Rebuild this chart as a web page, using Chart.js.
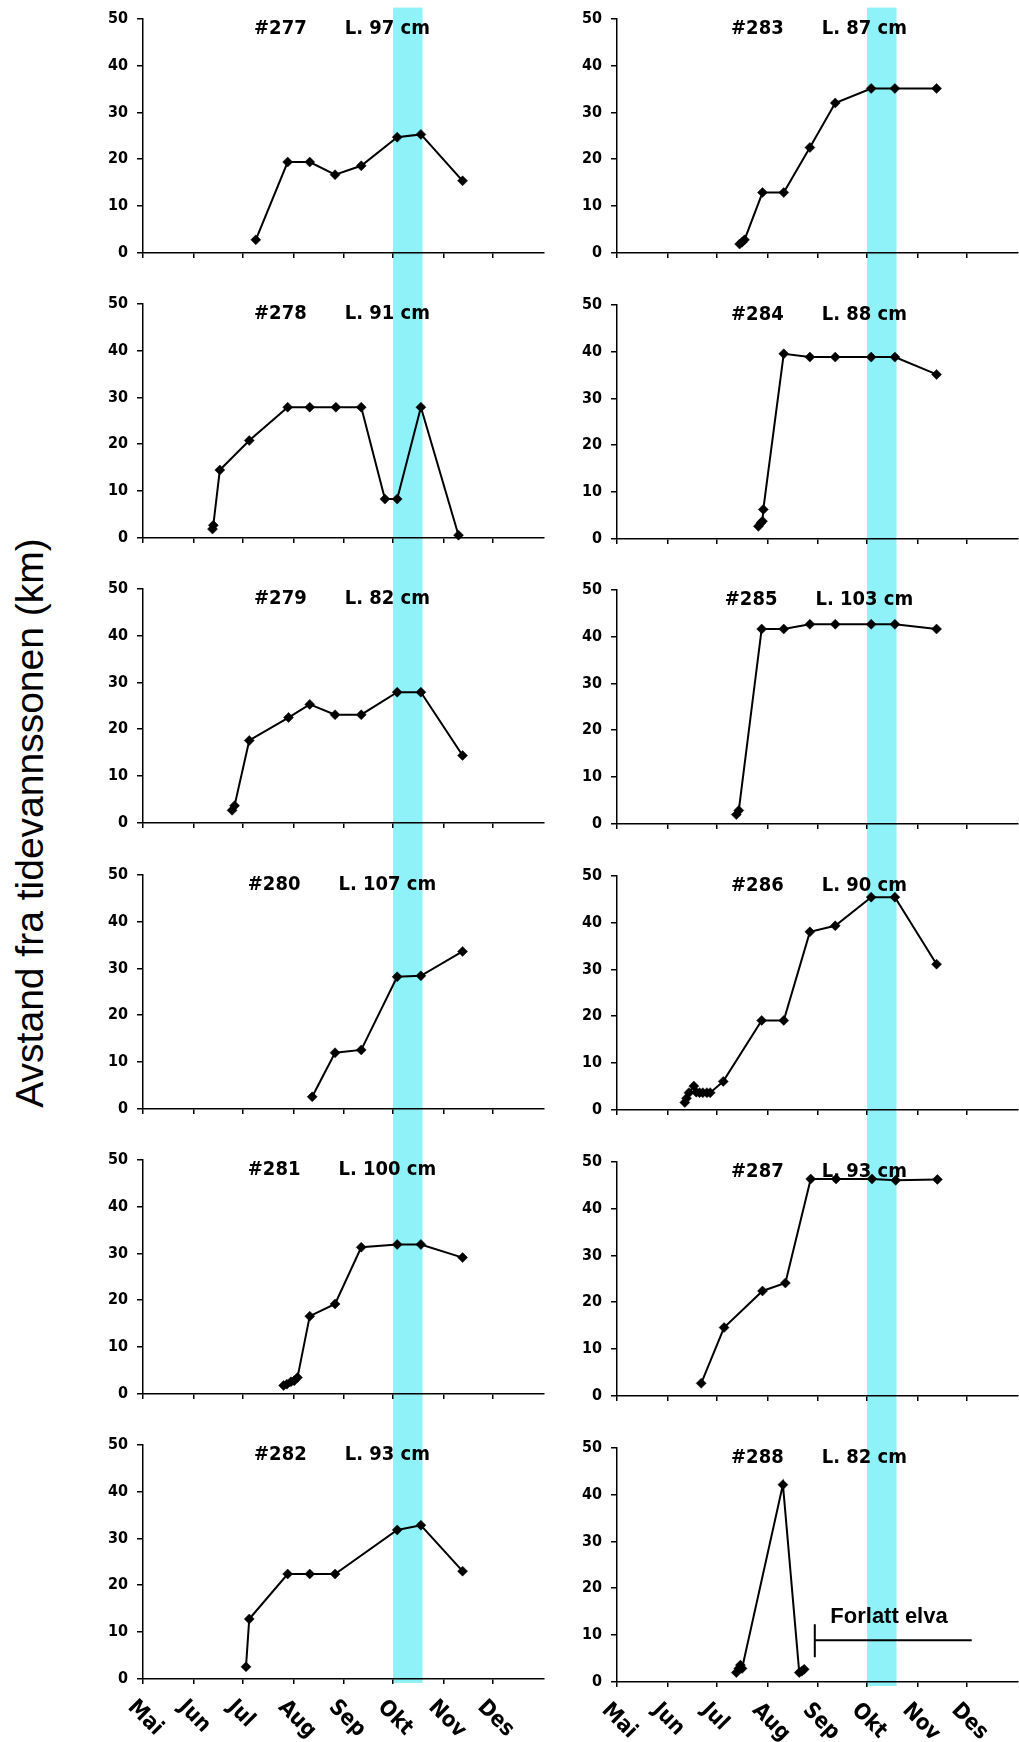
<!DOCTYPE html>
<html>
<head>
<meta charset="utf-8">
<style>
  html, body { margin:0; padding:0; background:#fff; overflow:hidden; }
  body { width:1019px; height:1742px; position:relative; }
  canvas { position:absolute; }
  #ylabel {
    position:absolute; left:29px; top:823px;
    transform:translate(-50%,-50%) rotate(-90deg);
    font-family:"Liberation Sans", Arial, sans-serif; font-size:39px;
    white-space:nowrap; line-height:1; color:#000;
  }
</style>
</head>
<body>
<div id="ylabel">Avstand fra tidevannssonen (km)</div>
<script src="https://cdn.jsdelivr.net/npm/chart.js"></script>
<script>
// x values are days counted from 1 May
var monthLabels = ['Mai', 'Jun', 'Jul', 'Aug', 'Sep', 'Okt', 'Nov', 'Des'];
var monthDays = [0, 31, 61, 92, 123, 153, 184, 214];
var seasonEnd = 245;
var yTicks = [0, 10, 20, 30, 40, 50];
var bandDays = [153, 171];

var days277 = [69, 88.5, 102, 117.5, 133.5, 155.5, 170, 195.5];
var km277   = [2.8, 19.4, 19.4, 16.7, 18.6, 24.7, 25.3, 15.4];
var days278 = [42.5, 43, 47, 65, 88.5, 102, 118, 133.5, 148, 155.5, 170, 193];
var km278   = [1.9, 2.7, 14.5, 20.8, 27.9, 27.9, 27.9, 27.9, 8.3, 8.3, 27.9, 0.6];
var days279 = [54.5, 56, 65, 89, 102, 117.5, 133.5, 155.5, 170, 195.5];
var km279   = [2.7, 3.7, 17.6, 22.5, 25.3, 23.1, 23.1, 27.9, 27.9, 14.4];
var days280 = [103.5, 117.5, 133.5, 155.5, 170, 195.5];
var km280   = [2.6, 12.0, 12.6, 28.2, 28.4, 33.6];
var days281 = [86, 88, 90.5, 92.5, 94.5, 102, 117.5, 133.5, 155.5, 170, 195.5];
var km281   = [1.8, 2.1, 2.6, 2.8, 3.5, 16.6, 19.2, 31.3, 31.9, 31.9, 29.1];
var days282 = [63, 65, 88.5, 102, 117.5, 155.5, 170, 195.5];
var km282   = [2.6, 12.8, 22.4, 22.4, 22.4, 31.8, 32.8, 23.0];
var days283 = [75, 76.5, 78, 89, 102, 118, 133.5, 155.5, 170, 195.5];
var km283   = [1.9, 2.3, 2.8, 12.9, 12.9, 22.5, 32.0, 35.1, 35.1, 35.1];
var days284 = [86.5, 88, 89, 89.5, 102, 118, 133.5, 155.5, 170, 195.5];
var km284   = [2.7, 3.4, 3.8, 6.3, 39.5, 38.8, 38.8, 38.8, 38.8, 35.1];
var days285 = [73, 74.5, 88.5, 102, 118, 133.5, 155.5, 170, 195.5];
var km285   = [2.0, 2.9, 41.6, 41.6, 42.6, 42.6, 42.6, 42.6, 41.6];
var days286 = [41.5, 42.5, 44, 47, 48.5, 50.5, 52.5, 55, 57, 65, 88.5, 102, 118, 133.5, 155.5, 170, 195.5];
var km286   = [1.6, 2.5, 3.7, 5.1, 3.8, 3.7, 3.7, 3.7, 3.7, 6.1, 19.1, 19.1, 38.0, 39.3, 45.4, 45.4, 31.1];
var days287 = [51.5, 65.5, 89, 103, 118.5, 134, 156, 170.5, 196];
var km287   = [2.7, 14.6, 22.4, 24.1, 46.3, 46.3, 46.3, 46.0, 46.2];
var days288 = [73, 74.5, 75.5, 76.5, 101.5, 111.5, 113, 114.5];
var km288   = [2.0, 2.9, 3.6, 2.9, 42.1, 2.0, 2.3, 2.7];

// "Forlatt elva" marker for #288
var leftDays = [121, 217];
var leftKm = 8.9;
var leftTickKm = [5.3, 12.3];
var leftText = 'Forlatt elva';
var leftTextAt = [130.5, 12.6];

var fishIds = ['#277', '#278', '#279', '#280', '#281', '#282', '#283', '#284', '#285', '#286', '#287', '#288'];
var fishLen = ['L. 97 cm', 'L. 91 cm', 'L. 82 cm', 'L. 107 cm', 'L. 100 cm', 'L. 93 cm',
               'L. 87 cm', 'L. 88 cm', 'L. 103 cm', 'L. 90 cm', 'L. 93 cm', 'L. 82 cm'];
var fishDays = [days277, days278, days279, days280, days281, days282, days283, days284, days285, days286, days287, days288];
var fishKm = [km277, km278, km279, km280, km281, km282, km283, km284, km285, km286, km287, km288];

var bandColor = '#8ef2f8';
var boldFont = '"DejaVu Sans Condensed", "DejaVu Sans", sans-serif';

var bandPlugin = {
  id: 'band',
  beforeDraw: function(chart) {
    var o = chart.options.plugins.band;
    var x = chart.scales.x, ctx = chart.ctx;
    var x0 = x.getPixelForValue(bandDays[0]), x1 = x.getPixelForValue(bandDays[1]);
    var top = o.first ? chart.chartArea.top - 11 : 0;
    var bottom = o.last ? chart.chartArea.bottom + 4 : chart.height;
    ctx.save();
    ctx.fillStyle = bandColor;
    ctx.fillRect(x0, top, x1 - x0, bottom - top);
    ctx.restore();
  }
};

var headPlugin = {
  id: 'head',
  beforeDatasetsDraw: function(chart) {
    var o = chart.options.plugins.head;
    var ctx = chart.ctx, a = chart.chartArea;
    ctx.save();
    ctx.font = 'bold 20px ' + boldFont;
    ctx.fillStyle = '#000';
    ctx.textBaseline = 'alphabetic';
    ctx.textAlign = 'left';
    var w1 = ctx.measureText(o.id).width, w2 = ctx.measureText(o.len).width;
    var gap = 38;
    var start = a.left + o.cx - (w1 + gap + w2) / 2;
    ctx.fillText(o.id, start, a.top + 15);
    ctx.fillText(o.len, start + w1 + gap, a.top + 15);
    if (o.note) {
      ctx.font = 'bold 22px "Liberation Sans", Arial, sans-serif';
      ctx.fillText(leftText, chart.scales.x.getPixelForValue(leftTextAt[0]), chart.scales.y.getPixelForValue(leftTextAt[1]));
    }
    ctx.restore();
  },
  afterDraw: function(chart) {
    var o = chart.options.plugins.head;
    if (!o.months) return;
    var ctx = chart.ctx, x = chart.scales.x;
    ctx.save();
    ctx.font = 'bold 22px ' + boldFont;
    ctx.fillStyle = '#000';
    ctx.textAlign = 'left';
    ctx.textBaseline = 'alphabetic';
    for (var k = 0; k < monthDays.length; k++) {
      ctx.save();
      ctx.translate(x.getPixelForValue(monthDays[k]) - 16, chart.chartArea.bottom + 29);
      ctx.rotate(Math.PI / 4);
      ctx.fillText(monthLabels[k], 0, 0);
      ctx.restore();
    }
    ctx.restore();
  }
};

function makePanel(n, col, row) {
  var spacing = col === 0 ? 285.2 : 285.7;
  var top = Math.round(spacing * row);
  var next = row === 5 ? 1742 : Math.round(spacing * (row + 1));
  var h = next - top;
  var left = col === 0 ? 90 : 564;
  var cv = document.createElement('canvas');
  cv.width = 459; cv.height = h;
  cv.style.left = left + 'px'; cv.style.top = top + 'px';
  document.body.appendChild(cv);

  var datasets = [{
    data: fishDays[n].map(function(d, k) { return { x: d, y: fishKm[n][k] }; }),
    borderColor: '#000', borderWidth: 2,
    pointStyle: 'rectRot', pointRadius: 5,
    pointBackgroundColor: '#000', pointBorderColor: '#000', pointBorderWidth: 0.5,
    tension: 0, clip: false
  }];
  if (n === 11) {
    datasets.push({
      data: [{ x: leftDays[0], y: leftKm }, { x: leftDays[1], y: leftKm }],
      borderColor: '#000', borderWidth: 2, pointRadius: 0
    });
    datasets.push({
      data: [{ x: leftDays[0], y: leftTickKm[0] }, { x: leftDays[0], y: leftTickKm[1] }],
      borderColor: '#000', borderWidth: 2, pointRadius: 0
    });
  }

  var xAxisH = h - 18 - 235;
  new Chart(cv, {
    type: 'line',
    data: { datasets: datasets },
    options: {
      responsive: false, animation: false, events: [],
      layout: { padding: { top: 18, left: 0, right: 0, bottom: 0 } },
      plugins: {
        legend: { display: false }, tooltip: { enabled: false },
        band: { first: row === 0, last: row === 5 },
        head: { id: fishIds[n], len: fishLen[n], cx: col === 0 ? 199 : 202, months: row === 5, note: n === 11 }
      },
      scales: {
        x: {
          type: 'linear', min: 0, max: seasonEnd,
          afterBuildTicks: function(s) { s.ticks = monthDays.map(function(v) { return { value: v }; }); },
          afterFit: function(s) { s.height = xAxisH; },
          ticks: { display: false },
          grid: { drawOnChartArea: false, drawTicks: true, tickLength: 5, color: '#000', lineWidth: 1.5 },
          border: { color: '#000', width: 1.5 }
        },
        y: {
          type: 'linear', min: 0, max: 50,
          afterBuildTicks: function(s) { s.ticks = yTicks.map(function(v) { return { value: v }; }); },
          afterFit: function(s) { s.width = 53; },
          ticks: { color: '#000', padding: 9, font: { family: boldFont, size: 16, weight: 'bold' } },
          grid: { drawOnChartArea: false, drawTicks: true, tickLength: 6, color: '#000', lineWidth: 1.5 },
          border: { color: '#000', width: 1.5 }
        }
      }
    },
    plugins: [bandPlugin, headPlugin]
  });
}

for (var r = 0; r < 6; r++) {
  makePanel(r, 0, r);
  makePanel(r + 6, 1, r);
}
</script>
</body>
</html>
